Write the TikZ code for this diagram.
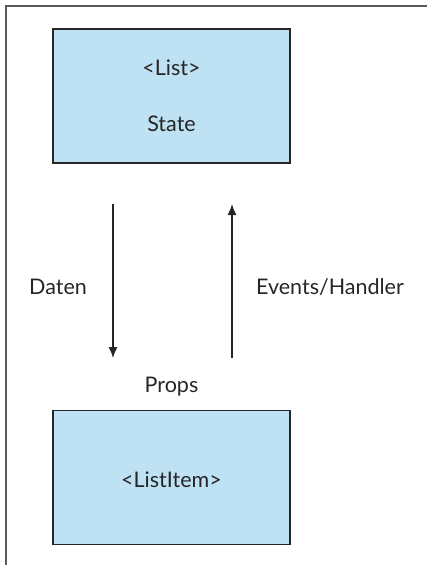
\documentclass[tikz,border=0pt]{standalone}
\usepackage{fontspec}
\setmainfont{Lato}
\usetikzlibrary{arrows.meta}
\usetikzlibrary{positioning}
\usepackage{xcolor}
\definecolor{compblue}{RGB}{190,225,243}

\begin{document}
\begin{tikzpicture}[x=1pt,y=-1pt,
    comp/.style={draw=black!85,fill=compblue,line width=1.4pt,minimum width=237pt,minimum height=134pt},
    lbl/.style={anchor=base,text=black!85,font=\fontsize{21.5}{25}\selectfont},
    flow/.style={-{Latex[length=11pt,width=9pt]},line width=1.4pt,black!85}]
      \useasboundingbox (0,0) rectangle (427,565);
      \draw[black!65,line width=1.4pt] (427,6) -- (6,6) -- (6,565);
      % parent component
      \node[comp] (list) at (171.5,96) {};
      \node[lbl] (listname) at (171.5,75) {<List>};
      \node[lbl] (state) at (171.5,131) {State};
      % child component
      \node[comp] (item) at (171.5,477.5) {};
      \node[lbl] (itemname) at (171.5,487) {<ListItem>};
      \node[lbl] (props) at (171.5,392) {Props};
      % data down, events up
      \coordinate (down1) at (113,204);
      \coordinate (down2) at (113,358);
      \coordinate (up1) at (232,358);
      \coordinate (up2) at (232,204);
      \draw[flow] (down1) -- (down2);
      \draw[flow] (up1) -- (up2);
      \node[lbl] (daten) at (58,294) {Daten};
      \node[lbl] (events) at (330,294) {Events/Handler};
    \end{tikzpicture}
\end{document}
